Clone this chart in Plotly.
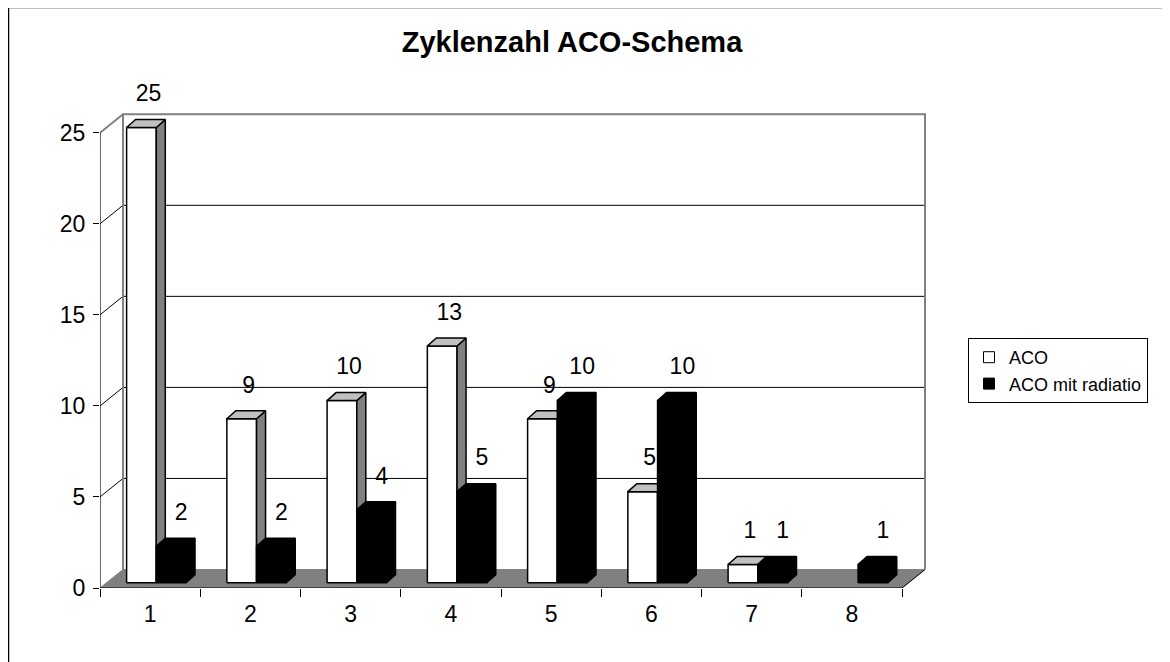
import plotly.graph_objects as go

# ---------------- data ----------------
categories = ["1", "2", "3", "4", "5", "6", "7", "8"]
aco_values = [25, 9, 10, 13, 9, 5, 1, None]
aco_rad_values = [2, 2, 4, 5, 10, 10, 1, 1]
series_names = ["ACO", "ACO mit radiatio"]
y_tick_values = [0, 5, 10, 15, 20, 25]
title_text = "Zyklenzahl ACO-Schema"

# ---------------- geometry (page pixels; the page body has an 8px margin) ----------------
OFF = 8
W, H = 1170 - OFF, 662 - OFF
AXIS_X = 100 - OFF            # front-left corner of plot (y axis)
FLOOR_Y = 588 - OFF           # front floor edge (value 0)
TOP_Y = 75 - OFF              # top of plot area (room for labels)
RIGHT_X = 926 - OFF           # right of back wall
ML = AXIS_X
MR = W - RIGHT_X
MT = TOP_Y
MB = H - FLOOR_Y
PX_X = 100.25          # pixels per category
PX_Y = 18.21           # pixels per value unit
plot_w = W - ML - MR
plot_h = H - MT - MB
x_range = [0.5, 0.5 + plot_w / PX_X]
y_range = [0, plot_h / PX_Y]

depth_dx = 23 / PX_X          # full floor depth (3-D offset)
depth_dy = 18.5 / PX_Y
bar_y0 = 5.3 / PX_Y           # bar front plane above front floor edge
bar_w = 29.7 / PX_X
bar_off = 26.6 / PX_X         # first bar offset from category's left edge
side_dx = 9 / PX_X
side_dy = 8 / PX_Y
lab_dy = 32 / PX_Y

n = len(categories)
x_left_edge = 0.5
x_right_edge = 0.5 + n
y_max = max(y_tick_values)

FONT = "Liberation Sans, Arial, sans-serif"
GRAY = "#808080"
LIGHT = "#c0c0c0"


def px_to_paper_x(px):
    return (px - OFF - ML) / plot_w


def py_to_paper_y(py):
    return (H - MB - (py - OFF)) / plot_h


fig = go.Figure()


def bar_faces(values, slot, lab_dx):
    fx, fy, sx, sy, tx, ty = [], [], [], [], [], []
    lx, ly, lt = [], [], []
    for i, v in enumerate(values):
        if v is None:
            continue
        xl = (i + 1) - 0.5 + bar_off + slot * bar_w
        xr = xl + bar_w
        yb = bar_y0
        yt = bar_y0 + v
        fx += [xl, xr, xr, xl, xl, None]
        fy += [yb, yb, yt, yt, yb, None]
        sx += [xr, xr + side_dx, xr + side_dx, xr, xr, None]
        sy += [yb, yb + side_dy, yt + side_dy, yt, yb, None]
        tx += [xl, xr, xr + side_dx, xl + side_dx, xl, None]
        ty += [yt, yt, yt + side_dy, yt + side_dy, yt, None]
        lx.append(xl + bar_w / 2 + lab_dx)
        ly.append(yt + lab_dy)
        lt.append(str(v))
    return (fx, fy), (sx, sy), (tx, ty), (lx, ly, lt)


series = [
    (aco_values, 0, "white", GRAY, LIGHT, 7 / PX_X),
    (aco_rad_values, 1, "black", "black", "black", 10 / PX_X),
]

label_sets = []
for values, slot, c_front, c_side, c_top, ldx in series:
    front, side, top, labels = bar_faces(values, slot, ldx)
    for (xs, ys), col in ((front, c_front), (side, c_side), (top, c_top)):
        fig.add_trace(go.Scatter(
            x=xs, y=ys, mode="lines", fill="toself", fillcolor=col,
            line=dict(color="black", width=1.5), hoverinfo="skip",
            showlegend=False))
    label_sets.append(labels)

for lx, ly, lt in label_sets:
    fig.add_trace(go.Scatter(
        x=lx, y=ly, text=lt, mode="text", textposition="middle center",
        textfont=dict(family=FONT, size=23, color="black"),
        cliponaxis=False, hoverinfo="skip", showlegend=False))

# legend entries
for name, col in zip(series_names, ["white", "black"]):
    fig.add_trace(go.Scatter(
        x=[None], y=[None], mode="markers", name=name,
        marker=dict(symbol="square", size=11, color=col,
                    line=dict(color="black", width=1))))

# ---------------- walls, floor, gridlines ----------------
shapes = []
# floor
shapes.append(dict(
    type="path", xref="x", yref="y", layer="below",
    path=(f"M{x_left_edge},0 L{x_right_edge},0 "
          f"L{x_right_edge + depth_dx},{depth_dy} "
          f"L{x_left_edge + depth_dx},{depth_dy} Z"),
    fillcolor=GRAY, line=dict(color=GRAY, width=1)))
# right floor edge
shapes.append(dict(type="line", xref="x", yref="y", layer="below",
                   x0=x_right_edge, y0=0, x1=x_right_edge + depth_dx, y1=depth_dy,
                   line=dict(color="black", width=1)))
# gridlines on back wall + side-wall diagonals
for v in y_tick_values[1:-1]:
    shapes.append(dict(type="line", xref="x", yref="y", layer="below",
                       x0=x_left_edge + depth_dx, y0=v + depth_dy,
                       x1=x_right_edge + depth_dx, y1=v + depth_dy,
                       line=dict(color="black", width=1)))
    shapes.append(dict(type="line", xref="x", yref="y", layer="below",
                       x0=x_left_edge, y0=v,
                       x1=x_left_edge + depth_dx, y1=v + depth_dy,
                       line=dict(color="black", width=1)))
# back wall outline (gray)
shapes.append(dict(type="path", xref="x", yref="y", layer="below",
                   path=(f"M{x_left_edge + depth_dx},{depth_dy} "
                         f"L{x_left_edge + depth_dx},{y_max + depth_dy} "
                         f"L{x_right_edge + depth_dx},{y_max + depth_dy} "
                         f"L{x_right_edge + depth_dx},{depth_dy}"),
                   line=dict(color=GRAY, width=2)))
shapes.append(dict(type="line", xref="x", yref="y", layer="below",
                   x0=x_left_edge, y0=y_max,
                   x1=x_left_edge + depth_dx, y1=y_max + depth_dy,
                   line=dict(color=GRAY, width=2)))
# axes lines
shapes.append(dict(type="line", xref="x", yref="y", layer="above",
                   x0=x_left_edge, y0=0, x1=x_left_edge, y1=y_max,
                   line=dict(color="black", width=1.2)))
shapes.append(dict(type="line", xref="x", yref="y", layer="above",
                   x0=x_left_edge, y0=0, x1=x_right_edge, y1=0,
                   line=dict(color="black", width=1.2)))
# outer chart border
shapes.append(dict(type="rect", xref="paper", yref="paper", layer="above",
                   x0=px_to_paper_x(8.5), x1=1.5,
                   y0=-0.5, y1=py_to_paper_y(7.5),
                   line=dict(color="black", width=1.5), fillcolor="rgba(0,0,0,0)"))

fig.update_layout(
    width=W, height=H,
    margin=dict(l=ML, r=MR, t=MT, b=MB, pad=0, autoexpand=False),
    paper_bgcolor="white", plot_bgcolor="white",
    font=dict(family=FONT, color="black"),
    shapes=shapes,
    title=dict(text="<b>" + title_text + "</b>", x=(572 - OFF) / W, xref="container",
               xanchor="center", y=1 - (42 - OFF) / H, yref="container", yanchor="middle",
               font=dict(family=FONT, size=29, color="black")),
    legend=dict(x=(968 - OFF) / W, xref="container", xanchor="left",
                y=1 - (338 - OFF) / H, yref="container", yanchor="top",
                bordercolor="black", borderwidth=1, bgcolor="white",
                font=dict(family=FONT, size=18, color="black"),
                tracegroupgap=7),
    showlegend=True,
)
fig.update_xaxes(range=x_range, tickmode="array",
                 tickvals=list(range(1, n + 1)), ticktext=categories,
                 ticks="", showgrid=False, zeroline=False, showline=False,
                 ticklabelstandoff=10, automargin=False,
                 tickfont=dict(family=FONT, size=23, color="black"),
                 minor=dict(tickmode="array",
                            tickvals=[k + 0.5 for k in range(0, n + 1)],
                            ticks="outside", ticklen=8, tickcolor="black",
                            tickwidth=1, showgrid=False))
fig.update_yaxes(range=y_range, tickmode="array", tickvals=y_tick_values,
                 ticktext=[str(v) for v in y_tick_values],
                 ticks="outside", ticklen=6, tickcolor="black", tickwidth=1,
                 showgrid=False, zeroline=False, showline=False,
                 ticklabelstandoff=3, automargin=False,
                 tickfont=dict(family=FONT, size=23, color="black"))

fig.write_html("out.html")
